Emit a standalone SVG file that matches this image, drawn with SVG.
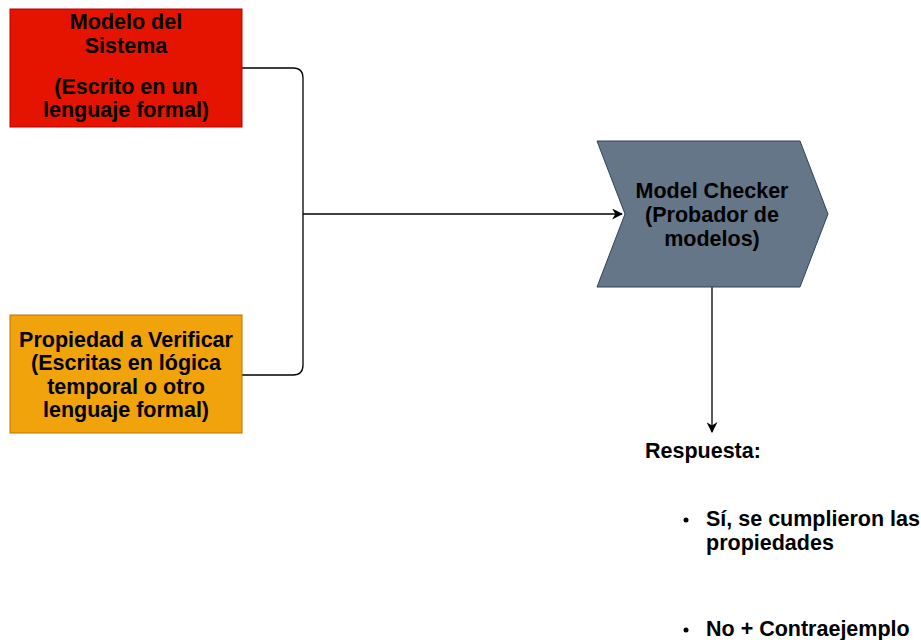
<svg xmlns="http://www.w3.org/2000/svg" width="921" height="640" viewBox="0 0 921 640">
  <defs>
    <marker id="arrow" viewBox="0 0 10 10" refX="9" refY="5" markerWidth="11" markerHeight="11" markerUnits="userSpaceOnUse" orient="auto">
      <path d="M0,0 L10,5 L0,10 L3,5 Z" fill="#000"/>
    </marker>
    <style>
      .lbl { font-family: "Liberation Sans", Arial, sans-serif; font-weight: bold; font-size: 21.5px; fill: #000; }
      .mid { text-anchor: middle; }
      .edge { fill: none; stroke: #000; stroke-width: 1.3; }
    </style>
  </defs>
  <rect width="921" height="640" fill="#ffffff"/>

  <!-- Connectors -->
  <g id="connectors">
    <path class="edge" d="M242,68 H293 Q303,68 303,78 V365 Q303,375 293,375 H242"/>
    <path class="edge" d="M303,214 H622" marker-end="url(#arrow)"/>
    <path class="edge" d="M712,287 V432" marker-end="url(#arrow)"/>
  </g>

  <!-- System model -->
  <g id="modelo">
    <rect x="10" y="9" width="232" height="118" fill="#e51400" stroke="#b20000" stroke-width="1"/>
    <text class="lbl mid" x="126" y="29">Modelo del</text>
    <text class="lbl mid" x="126" y="53">Sistema</text>
    <text class="lbl mid" x="126" y="94">(Escrito en un</text>
    <text class="lbl mid" x="126" y="117">lenguaje formal)</text>
  </g>

  <!-- Property to verify -->
  <g id="propiedad">
    <rect x="10" y="315" width="232" height="118" fill="#f0a30a" stroke="#bd7000" stroke-width="1"/>
    <text class="lbl mid" x="126" y="347">Propiedad a Verificar</text>
    <text class="lbl mid" x="126" y="370">(Escritas en lógica</text>
    <text class="lbl mid" x="126" y="394">temporal o otro</text>
    <text class="lbl mid" x="126" y="417">lenguaje formal)</text>
  </g>

  <!-- Model checker -->
  <g id="checker">
    <path d="M597,141 H800 L828,214 L800,287 H597 L625,214 Z" fill="#647687" stroke="#314354" stroke-width="1"/>
    <text class="lbl mid" x="712" y="198">Model Checker</text>
    <text class="lbl mid" x="712" y="222">(Probador de</text>
    <text class="lbl mid" x="712" y="246">modelos)</text>
  </g>

  <!-- Answer -->
  <g id="respuesta">
    <text class="lbl" x="645" y="458">Respuesta:</text>
    <circle cx="686" cy="520" r="2.5" fill="#000"/>
    <text class="lbl" x="706" y="526">Sí, se cumplieron las</text>
    <text class="lbl" x="706" y="550">propiedades</text>
    <circle cx="686" cy="630" r="2.5" fill="#000"/>
    <text class="lbl" x="706" y="636">No + Contraejemplo</text>
  </g>
</svg>
